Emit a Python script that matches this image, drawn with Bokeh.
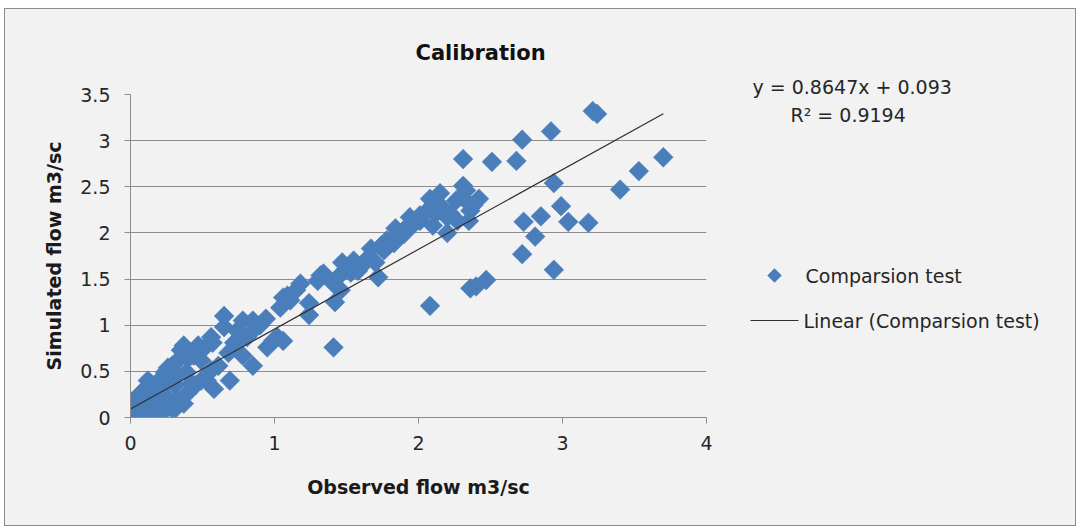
import numpy as np
from bokeh.plotting import figure
from bokeh.layouts import row
from bokeh.models import Label, PolyAnnotation, FixedTicker, Range1d, Title
from bokeh.embed import file_html
from bokeh.resources import INLINE

# Observed vs simulated flow (m3/sc)
observed = [
    3.21, 3.24, 2.92, 2.72, 2.31, 2.51, 2.68, 3.70, 3.53, 3.40, 2.94, 2.99,
    2.85, 2.73, 3.04, 3.18, 2.81, 2.72, 2.94, 2.47, 2.40, 2.36, 2.08, 1.41,
    2.15, 2.31, 2.31, 2.38, 2.36, 1.94, 2.06, 2.20, 2.27, 2.20, 1.90, 2.22,
    2.26, 2.15, 2.01, 2.10, 2.42,
    1.97, 1.90, 1.78, 1.76, 1.65, 1.55, 1.58, 1.72, 1.44, 1.34, 1.30, 1.41,
    1.46, 1.42, 1.24, 1.24, 1.09, 1.04, 0.85, 1.02, 1.83, 1.70, 1.61, 1.50,
    1.85, 1.32, 1.06, 0.99, 1.06,
    0.65, 0.78, 0.65, 0.72, 0.81, 0.95, 0.78, 0.85, 0.69, 0.58, 0.53, 0.37,
    0.47, 0.56, 0.40, 0.42, 0.33, 0.26, 0.21, 0.12, 0.07, 0.00, 0.00, 0.02,
    0.14, 0.26, 0.33, 0.19, 0.09, 0.14, 0.49, 0.85, 0.74, 0.35, 0.26, 0.09,
    0.07, 0.19, 0.30, 0.37,
    0.03, 0.06, 0.10, 0.15, 0.21, 0.24, 0.29, 0.33, 0.44, 0.51, 0.57, 0.49,
    0.39, 0.31, 0.24, 0.15, 0.10, 0.02, 0.00, 0.06, 0.13, 0.21, 0.28, 0.40,
    0.45, 0.56, 0.61, 0.68, 0.74, 0.90, 0.94, 1.15, 1.18, 1.11, 1.47, 1.53,
    1.67, 1.74, 1.84, 1.93, 2.01, 2.08, 2.12, 2.35, 2.33,
]
simulated = [
    3.32, 3.29, 3.10, 3.01, 2.80, 2.77, 2.78, 2.82, 2.67, 2.47, 2.54, 2.29,
    2.18, 2.12, 2.12, 2.11, 1.96, 1.77, 1.60, 1.49, 1.42, 1.40, 1.21, 0.76,
    2.43, 2.51, 2.38, 2.30, 2.24, 2.17, 2.24, 2.17, 2.13, 2.00, 2.03, 2.21,
    2.35, 2.30, 2.13, 2.08, 2.37,
    2.10, 1.99, 1.92, 1.81, 1.73, 1.70, 1.59, 1.52, 1.52, 1.56, 1.48, 1.45,
    1.38, 1.25, 1.24, 1.11, 1.32, 1.19, 1.05, 0.87, 1.89, 1.68, 1.65, 1.61,
    1.96, 1.54, 1.30, 0.83, 0.83,
    1.10, 1.05, 0.98, 0.81, 0.87, 0.76, 0.67, 0.56, 0.40, 0.31, 0.40, 0.78,
    0.78, 0.87, 0.64, 0.37, 0.46, 0.40, 0.31, 0.40, 0.26, 0.18, 0.05, 0.00,
    0.04, 0.11, 0.18, 0.22, 0.15, 0.37, 0.40, 0.94, 0.80, 0.73, 0.54, 0.29,
    0.01, 0.01, 0.08, 0.15,
    0.13, 0.21, 0.27, 0.31, 0.42, 0.49, 0.56, 0.62, 0.67, 0.75, 0.81, 0.62,
    0.49, 0.35, 0.24, 0.15, 0.08, 0.05, 0.00, 0.02, 0.00, 0.08, 0.15, 0.27,
    0.35, 0.51, 0.56, 0.70, 0.94, 1.00, 1.07, 1.38, 1.45, 1.27, 1.68, 1.57,
    1.83, 1.86, 2.05, 2.08, 2.19, 2.37, 2.21, 2.13, 2.46,
]

# Linear trend line reported for the series
slope = 0.8647
intercept = 0.093
r_squared = 0.9194

x_ticks = [0, 1, 2, 3, 4]
x_tick_labels = ["0", "1", "2", "3", "4"]
y_ticks = [0, 0.5, 1, 1.5, 2, 2.5, 3, 3.5]
y_tick_labels = ["0", "0.5", "1", "1.5", "2", "2.5", "3", "3.5"]

series_name = "Comparsion test"
trend_name = "Linear (Comparsion test)"

FONT = "DejaVu Sans"
BLUE = "#4A7EBB"
GRID = "#8c8c8c"
TEXT = "#262626"
BG = "#f2f2f2"
HEIGHT = 516
BORDER_TOP = 85
BORDER_BOTTOM = 108

# ---- main scatter chart ----
main_w = 721
p = figure(
    width=main_w, height=HEIGHT,
    x_range=Range1d(0, 4), y_range=Range1d(0, 3.5),
    output_backend="svg", toolbar_location=None,
    min_border_left=125, min_border_right=main_w - 701,
    min_border_top=BORDER_TOP, min_border_bottom=BORDER_BOTTOM,
    background_fill_color=BG, border_fill_color=BG,
    outline_line_color=None,
)

p.add_layout(Title(text="Calibration", align="left", offset=285, standoff=59,
                   text_font=FONT, text_font_size="21px",
                   text_font_style="bold", text_color="#111111"), "above")

p.xaxis.ticker = FixedTicker(ticks=x_ticks)
p.xaxis.major_label_overrides = {t: s for t, s in zip(x_ticks, x_tick_labels)}
p.yaxis.ticker = FixedTicker(ticks=y_ticks)
p.yaxis.major_label_overrides = {t: s for t, s in zip(y_ticks, y_tick_labels)}

for ax in (p.xaxis[0], p.yaxis[0]):
    ax.axis_line_color = GRID
    ax.major_tick_line_color = GRID
    ax.minor_tick_line_color = None
    ax.major_tick_in = 0
    ax.major_tick_out = 6
    ax.major_label_text_font = FONT
    ax.major_label_text_font_size = "19px"
    ax.major_label_text_color = TEXT
    ax.axis_label_text_font = FONT
    ax.axis_label_text_font_size = "19px"
    ax.axis_label_text_font_style = "bold"
    ax.axis_label_text_color = "#1a1a1a"

p.xaxis.axis_label = "Observed flow m3/sc"
p.yaxis.axis_label = "Simulated flow m3/sc"
p.xaxis.major_label_standoff = 12
p.xaxis.axis_label_standoff = 23
p.yaxis.major_label_standoff = 14
p.yaxis.axis_label_standoff = 12

p.xgrid.visible = False
p.ygrid.grid_line_color = GRID
p.ygrid.grid_line_width = 1

# data points as diamonds
p.scatter(observed, simulated, marker="square", angle=45, angle_units="deg",
          size=14, fill_color=BLUE, line_color=BLUE, line_width=0.5)

# trend line over the observed range
x0, x1 = min(observed), max(observed)
p.line([x0, x1], [slope * x0 + intercept, slope * x1 + intercept],
       line_color="#303030", line_width=1.2)

# ---- side panel: equation and legend ----
# ranges are in page pixels (x to the right, y downward) so the panel's
# frame lines up with the main chart's frame
side_left = 5 + main_w
side_w = 1075 - side_left
frame_top = 9 + BORDER_TOP
frame_bottom = 9 + HEIGHT - BORDER_BOTTOM
q = figure(
    width=side_w, height=HEIGHT,
    x_range=Range1d(side_left, side_left + side_w),
    y_range=Range1d(frame_bottom, frame_top),
    output_backend="svg", toolbar_location=None,
    min_border_left=0, min_border_right=0,
    min_border_top=BORDER_TOP, min_border_bottom=BORDER_BOTTOM,
    background_fill_color=BG, border_fill_color=BG,
    outline_line_color=None,
)
q.axis.visible = False
q.grid.visible = False

q.add_layout(Title(text=f"y = {slope}x + {intercept}", align="left",
                   offset=752 - side_left, standoff=-6,
                   text_font=FONT, text_font_size="19px",
                   text_font_style="normal", text_color=TEXT), "above")
q.add_layout(Label(x=790, y=114, text=f"R\u00b2 = {r_squared}",
                   text_font=FONT, text_font_size="19px", text_color=TEXT,
                   text_align="left", text_baseline="middle"))

q.add_layout(PolyAnnotation(xs=[774, 781, 774, 767], ys=[268, 275, 282, 275],
                            fill_color=BLUE, fill_alpha=1.0,
                            line_color=BLUE, line_alpha=1.0, line_width=0.5))
q.add_layout(Label(x=805, y=275, text=series_name, text_font=FONT,
                   text_font_size="19px", text_color=TEXT,
                   text_align="left", text_baseline="middle"))
q.add_layout(PolyAnnotation(xs=[750, 798], ys=[320, 320], fill_alpha=0,
                            line_color="#303030", line_alpha=1.0,
                            line_width=1.2))
q.add_layout(Label(x=803, y=320, text=trend_name, text_font=FONT,
                   text_font_size="19px", text_color=TEXT,
                   text_align="left", text_baseline="middle"))

layout = row(p, q, spacing=0,
             styles={"margin-left": "4px", "margin-top": "8px",
                     "border": "1px solid #8a8a8a", "background": BG})

open("out.html", "w").write(file_html(layout, INLINE))
